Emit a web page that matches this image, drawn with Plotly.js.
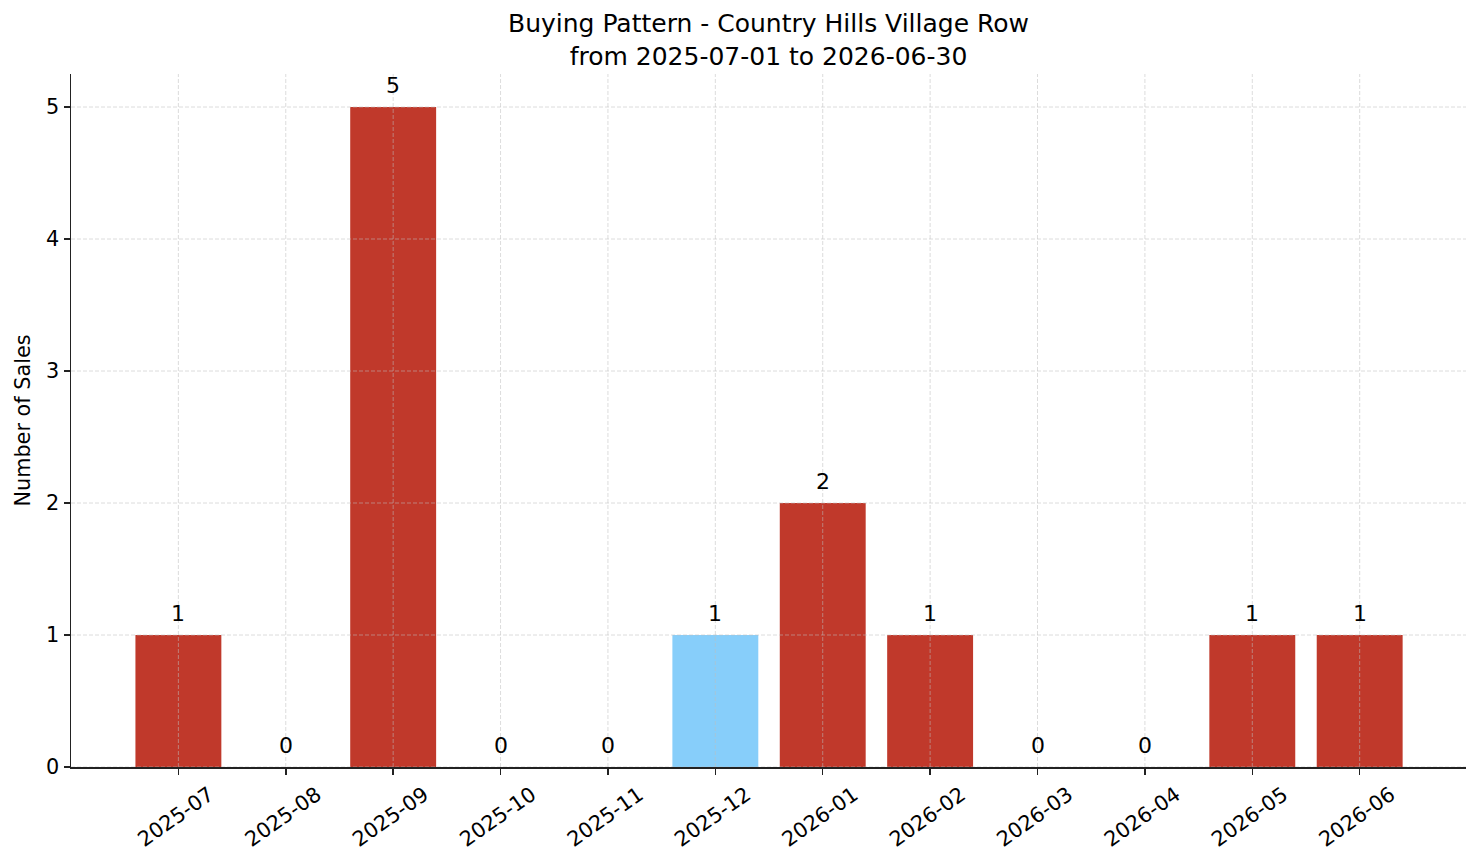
<!DOCTYPE html>
<html>
<head>
<meta charset="utf-8">
<script src="https://cdn.plot.ly/plotly-3.0.1.min.js"></script>
<style>html,body{margin:0;padding:0;background:#fff;}#chart{width:1481px;height:863px;}</style>
</head>
<body>
<div id="chart"></div>
<script>
const months = ["2025-07","2025-08","2025-09","2025-10","2025-11","2025-12","2026-01","2026-02","2026-03","2026-04","2026-05","2026-06"];
const sales = [1,0,5,0,0,1,2,1,0,0,1,1];
const highlightMonth = "2025-12";
const yTicks = [0,1,2,3,4,5];

const RED = "#c0392b";
const BLUE = "#87cefa";
const FONT = "DejaVu Sans, sans-serif";

const idx = months.map((m,i)=>i);
const colors = months.map(m => m === highlightMonth ? BLUE : RED);

const trace = {
  type: "bar",
  x: idx,
  y: sales,
  width: 0.8,
  marker: {color: colors, line: {width: 0}},
  hoverinfo: "skip"
};

const annotations = idx.map((i) => ({
  x: i, y: sales[i], xref: "x", yref: "y",
  text: String(sales[i]), showarrow: false,
  yanchor: "bottom", yshift: 7,
  font: {family: FONT, size: 22, color: "#000"}
}));

const gridStyle = {color: "rgba(190,190,190,0.6)", width: 0.9, dash: "4px,2px"};
const shapes = [];
idx.forEach(i => shapes.push({type:"line", xref:"x", yref:"paper", x0:i, x1:i, y0:0, y1:1, line:gridStyle, layer:"above"}));
yTicks.forEach(v => shapes.push({type:"line", xref:"paper", yref:"y", x0:0, x1:1, y0:v, y1:v, line:gridStyle, layer:"above"}));

const layout = {
  width: 1481, height: 863,
  margin: {l: 71, r: 15, t: 74, b: 96},
  paper_bgcolor: "#fff", plot_bgcolor: "#fff",
  font: {family: FONT, color: "#000"},
  title: {
    text: "Buying Pattern - Country Hills Village Row<br>from 2025-07-01 to 2026-06-30",
    x: 0.5, xref: "paper", xanchor: "center",
    y: 1, yref: "paper", yanchor: "bottom",
    pad: {b: 42},
    font: {family: FONT, size: 25, color: "#000"}
  },
  xaxis: {
    range: [-1.0, 11.99],
    tickmode: "array", tickvals: idx, ticktext: months,
    tickangle: -35, ticklabelshift: 31,
    ticks: "outside", ticklen: 6, tickwidth: 1.5, tickcolor: "#222",
    showline: true, linecolor: "#222", linewidth: 1.5,
    showgrid: false, zeroline: false,
    tickfont: {family: FONT, size: 20.8, color: "#000"}
  },
  yaxis: {
    range: [0, 5.25],
    tickmode: "array", tickvals: yTicks,
    ticks: "outside", ticklen: 6, tickwidth: 1.5, tickcolor: "#222",
    showline: true, linecolor: "#222", linewidth: 1.5,
    showgrid: false, zeroline: false,
    tickfont: {family: FONT, size: 20.8, color: "#000"},
    title: {text: "Number of Sales", font: {family: FONT, size: 20.8, color: "#000"}, standoff: 10}
  },
  annotations: annotations,
  shapes: shapes,
  showlegend: false,
  bargap: 0.2
};

Plotly.newPlot("chart", [trace], layout, {displayModeBar: false, staticPlot: true});
</script>
</body>
</html>
